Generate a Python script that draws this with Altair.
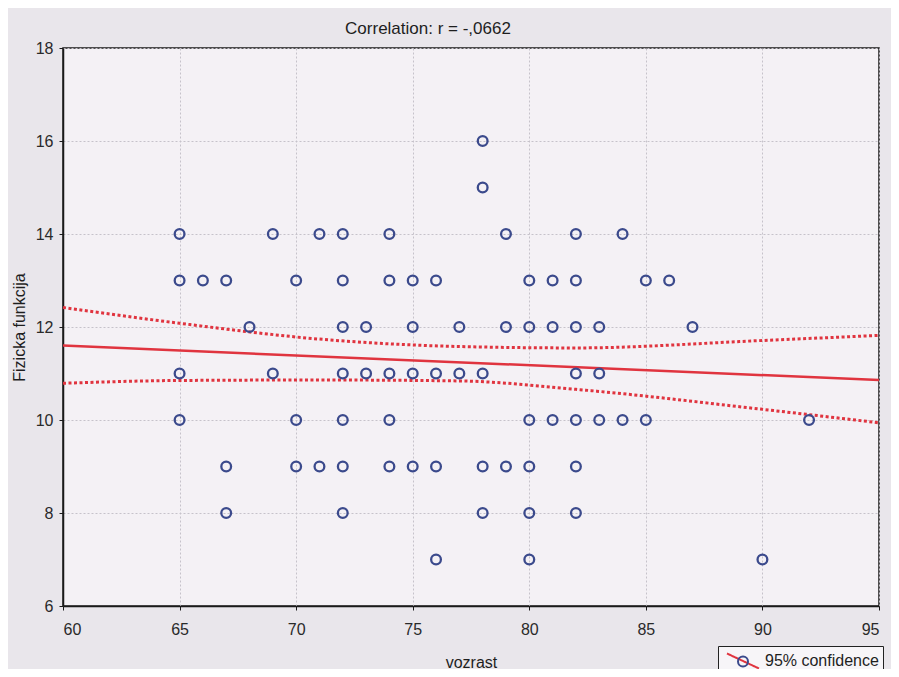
import altair as alt
import pandas as pd

# Scatter data (age = vozrast, score = Fizicka funkcija)
age = [65, 69, 71, 72, 74, 79, 82, 84,
       78, 78,
       65, 66, 67, 70, 72, 74, 75, 76, 80, 81, 82, 85, 86,
       68, 72, 73, 75, 77, 79, 80, 81, 82, 83, 87,
       65, 69, 72, 73, 74, 75, 76, 77, 78, 82, 83,
       65, 70, 72, 74, 80, 81, 82, 83, 84, 85, 92,
       67, 70, 71, 72, 74, 75, 76, 78, 79, 80, 82,
       67, 72, 78, 80, 82,
       76, 80, 90]
score = [14, 14, 14, 14, 14, 14, 14, 14,
         16, 15,
         13, 13, 13, 13, 13, 13, 13, 13, 13, 13, 13, 13, 13,
         12, 12, 12, 12, 12, 12, 12, 12, 12, 12, 12,
         11, 11, 11, 11, 11, 11, 11, 11, 11, 11, 11,
         10, 10, 10, 10, 10, 10, 10, 10, 10, 10, 10,
         9, 9, 9, 9, 9, 9, 9, 9, 9, 9, 9,
         8, 8, 8, 8, 8,
         7, 7, 7]

# Regression line and 95% confidence band
fit_age = [60, 95]
fit_val = [11.60, 10.86]
ci_age = [60, 65, 71, 77, 82, 90, 95]
ci_upper = [12.42, 12.08, 11.74, 11.58, 11.55, 11.71, 11.82]
ci_lower = [10.79, 10.85, 10.86, 10.84, 10.66, 10.23, 9.94]

x_ticks = [60, 65, 70, 75, 80, 85, 90, 95]
y_ticks = [6, 8, 10, 12, 14, 16, 18]

FONT = "Liberation Sans"
RED = "#e0343f"
NAVY = "#3b4a8c"

pts = pd.DataFrame({"age": age, "score": score, "pts": "pts"})
fit = pd.DataFrame({"age": fit_age, "score": fit_val})
ci = pd.concat([
    pd.DataFrame({"age": ci_age, "score": ci_upper, "bound": "upper"}),
    pd.DataFrame({"age": ci_age, "score": ci_lower, "bound": "lower"}),
])
ci["lbl"] = "95% confidence"

x_enc = alt.X("age:Q",
              scale=alt.Scale(domain=[60, 95], nice=False, zero=False),
              axis=alt.Axis(values=x_ticks, title="vozrast", format="d"))
y_enc = alt.Y("score:Q",
              scale=alt.Scale(domain=[6, 18], nice=False, zero=False),
              axis=alt.Axis(values=y_ticks, title="Fizicka funkcija", format="d"))

ci_layer = alt.Chart(ci).mark_line(
    strokeDash=[3, 2.5], strokeWidth=3, interpolate="monotone"
).encode(
    x=x_enc, y=y_enc, detail="bound:N",
    color=alt.Color("lbl:N", scale=alt.Scale(range=[RED]),
                    legend=alt.Legend(
                        title=None, orient="none", legendX=655, legendY=598,
                        symbolType="M-1.6,-0.75L1.6,0.75", symbolSize=400,
                        symbolStrokeWidth=2, symbolDash=[1, 0],
                        symbolOffset=10, labelOffset=11,
                        labelFontSize=16, labelFont=FONT, labelColor="#1e1e1e",
                        padding=4, strokeColor="#222", fillColor="#f7f5f8",
                        cornerRadius=0)),
)

fit_layer = alt.Chart(fit).mark_line(color=RED, strokeWidth=2.5).encode(
    x=x_enc, y=y_enc)

pt_layer = alt.Chart(pts).mark_point(
    shape="circle", filled=False, size=95, strokeWidth=2.3, opacity=1
).encode(
    x=x_enc, y=y_enc,
    stroke=alt.Stroke("pts:N", scale=alt.Scale(range=[NAVY]),
                      legend=alt.Legend(
                          title=None, orient="none", legendX=655, legendY=598,
                          symbolType="M1.5,0.05A0.5,0.5 0 1 1 0.5,0.05A0.5,0.5 0 1 1 1.5,0.05Z",
                          symbolSize=400, symbolStrokeWidth=2,
                          labelExpr="''", labelFontSize=16,
                          padding=4)),
)

chart = alt.layer(ci_layer, fit_layer, pt_layer).properties(
    width=816, height=558,
    autosize=alt.AutoSizeParams(type="none"),
    padding={"left": 55, "top": 40, "right": 12, "bottom": 63},
    background="#e9e6eb",
    title=alt.TitleParams("Correlation: r = -,0662", font=FONT, fontSize=17,
                          fontWeight="normal", color="#1e1e1e", dx=-43, offset=2),
).configure_view(
    stroke="#1a1a1a", strokeWidth=1.5, fill="#f4f1f5"
).configure_axis(
    labelFont=FONT, labelFontSize=16, labelColor="#2a2a2a",
    titleFont=FONT, titleFontSize=16, titleFontWeight="normal", titleColor="#1e1e1e",
    domainColor="#1a1a1a", domainWidth=1.5,
    tickColor="#1a1a1a", tickSize=4,
    gridColor="#c6c2ca", gridDash=[2, 2], gridWidth=1,
).configure_axisX(
    labelPadding=11, titlePadding=17
).configure_axisY(
    labelPadding=6, titlePadding=8
)

chart.save("out.html", embed_options={"renderer": "svg", "actions": False})
